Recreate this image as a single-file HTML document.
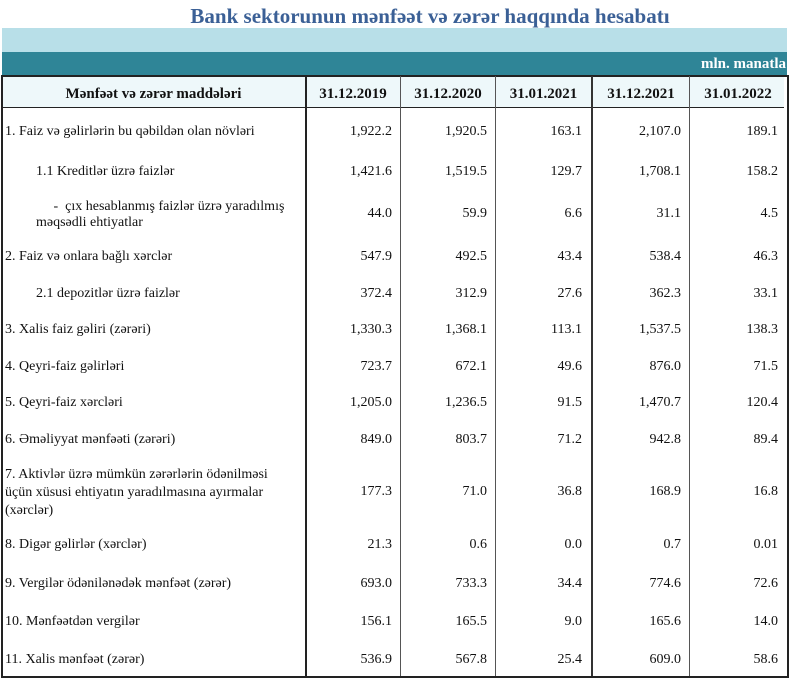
<!DOCTYPE html>
<html><head><meta charset="utf-8"><style>
body{margin:0;background:#fff;width:800px;height:677px;position:relative;overflow:hidden;font-family:"Liberation Serif","DejaVu Serif",serif;color:#111}
.a{position:absolute;white-space:nowrap;font-size:14px;line-height:16px}
.n{text-align:right;width:90px}
.v{position:absolute;top:76px;height:600px;width:1px;background:#333}
.h{font-weight:bold;font-size:15px}
</style></head><body>
<div class="a" style="left:0;width:860px;text-align:center;top:4px;font-size:21px;line-height:24px;font-weight:bold;color:#3b6096">Bank sektorunun mənfəət və zərər haqqında hesabatı</div>
<div style="position:absolute;left:2px;top:28px;width:785px;height:24px;background:#b8dfe8"></div>
<div style="position:absolute;left:2px;top:52px;width:785px;height:23px;background:#2f8597"></div>
<div class="a" style="right:14px;top:56px;color:#fff;font-weight:bold;font-size:15px">mln. manatla</div>
<div style="position:absolute;left:2px;top:76px;width:782px;height:31px;background:#eef8fa;border-bottom:1px solid #222"></div>
<div style="position:absolute;left:1px;top:75px;width:784px;height:599px;border:2px solid #222"></div>
<div class="v" style="left:305px;width:2px;background:#222"></div>
<div class="v" style="left:400px;background:#555"></div>
<div class="v" style="left:495px;background:#555"></div>
<div class="v" style="left:591px;width:2px;background:#333"></div>
<div class="v" style="left:689px;background:#555"></div>
<div class="a h" style="left:2px;width:303px;text-align:center;top:86px">Mənfəət və zərər maddələri</div>
<div class="a h" style="left:306px;width:94px;text-align:center;top:86px">31.12.2019</div>
<div class="a h" style="left:401px;width:94px;text-align:center;top:86px">31.12.2020</div>
<div class="a h" style="left:496px;width:95px;text-align:center;top:86px">31.01.2021</div>
<div class="a h" style="left:593px;width:96px;text-align:center;top:86px">31.12.2021</div>
<div class="a h" style="left:690px;width:96px;text-align:center;top:86px">31.01.2022</div>

<div class="a" style="left:5px;top:124px">1. Faiz və gəlirlərin bu qəbildən olan növləri</div>
<div class="a" style="left:36px;top:164px">1.1 Kreditlər üzrə faizlər</div>
<div class="a" style="left:36px;top:199px">&nbsp; &nbsp; &nbsp;- &nbsp;çıx hesablanmış faizlər üzrə yaradılmış<br>məqsədli ehtiyatlar</div>
<div class="a" style="left:5px;top:249px">2. Faiz və onlara bağlı xərclər</div>
<div class="a" style="left:36px;top:286px">2.1 depozitlər üzrə faizlər</div>
<div class="a" style="left:5px;top:322px">3. Xalis faiz gəliri (zərəri)</div>
<div class="a" style="left:5px;top:359px">4. Qeyri-faiz gəlirləri</div>
<div class="a" style="left:5px;top:395px">5. Qeyri-faiz xərcləri</div>
<div class="a" style="left:5px;top:432px">6. Əməliyyat mənfəəti (zərəri)</div>
<div class="a" style="left:5px;top:466px;line-height:18px">7. Aktivlər üzrə mümkün zərərlərin ödənilməsi<br>üçün xüsusi ehtiyatın yaradılmasına ayırmalar<br>(xərclər)</div>
<div class="a" style="left:5px;top:537px">8. Digər gəlirlər (xərclər)</div>
<div class="a" style="left:5px;top:576px">9. Vergilər ödənilənədək mənfəət (zərər)</div>
<div class="a" style="left:5px;top:614px">10. Mənfəətdən vergilər</div>
<div class="a" style="left:5px;top:652px">11. Xalis mənfəət (zərər)</div>

<div id="nums"></div>
<script>
var rows=[[124,"1,922.2","1,920.5","163.1","2,107.0","189.1"],[164,"1,421.6","1,519.5","129.7","1,708.1","158.2"],[206,"44.0","59.9","6.6","31.1","4.5"],[249,"547.9","492.5","43.4","538.4","46.3"],[286,"372.4","312.9","27.6","362.3","33.1"],[322,"1,330.3","1,368.1","113.1","1,537.5","138.3"],[359,"723.7","672.1","49.6","876.0","71.5"],[395,"1,205.0","1,236.5","91.5","1,470.7","120.4"],[432,"849.0","803.7","71.2","942.8","89.4"],[484,"177.3","71.0","36.8","168.9","16.8"],[537,"21.3","0.6","0.0","0.7","0.01"],[576,"693.0","733.3","34.4","774.6","72.6"],[614,"156.1","165.5","9.0","165.6","14.0"],[652,"536.9","567.8","25.4","609.0","58.6"]];
var R=[392,487,582,681,778],h="";
rows.forEach(function(r){for(var i=0;i<5;i++)h+='<div class="a n" style="left:'+(R[i]-90)+'px;top:'+r[0]+'px">'+r[i+1]+'</div>';});
document.getElementById("nums").innerHTML=h;
</script>
</body></html>
